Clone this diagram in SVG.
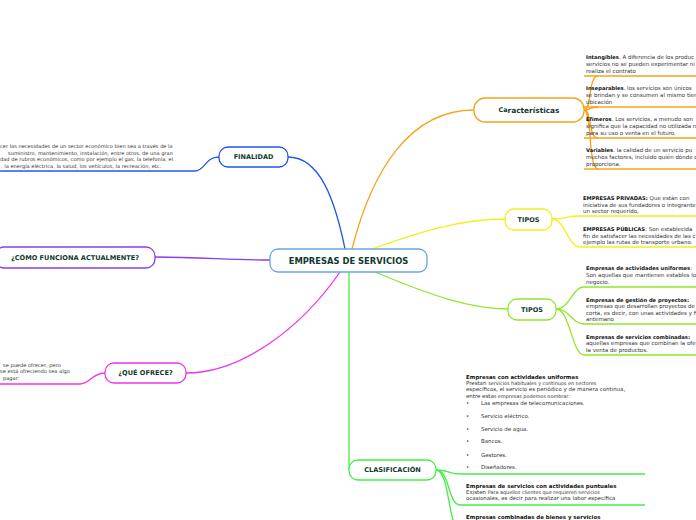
<svg xmlns="http://www.w3.org/2000/svg" width="696" height="520" viewBox="0 0 696 520">
<style>
.node rect{fill:#fff;stroke-width:1.3}
.nt{font-family:"DejaVu Sans",Verdana,sans-serif;font-weight:bold;fill:#12392f;text-anchor:middle;dominant-baseline:central}
.t{font-family:"DejaVu Sans",Verdana,sans-serif;font-size:5.1px;fill:#333}
.r{font-size:5.5px}
.b{font-weight:bold;fill:#111}
.r .b{font-size:5.2px}
.c{fill:none;stroke-width:1.3}
.u{fill:none;stroke-width:1.6}
</style>
<rect width="696" height="520" fill="#fff"/>
<g id="connectors">
<path class="c" stroke="#2255ee" d="M345,249 C335,200 320,157 288,157"/>
<path class="c" stroke="#f7a21b" d="M352,249 C372,170 410,110 474,110"/>
<path class="c" stroke="#f0f020" d="M372,249 C420,232 460,219 505,219"/>
<path class="c" stroke="#8ee82a" d="M375,272 C430,295 470,309 508,309"/>
<path class="c" stroke="#44ee44" d="M349,272 L349,470"/>
<path class="c" stroke="#ee33ee" d="M340,272 C300,330 240,373 186,373"/>
<path class="c" stroke="#8a3cee" d="M155,257 C200,257 230,260 270,260"/>
<path class="c" stroke="#f7a21b" d="M584,110 C592,110 588,76 598,76"/>
<path class="c" stroke="#f7a21b" d="M584,110 C592,110 588,107 598,107"/>
<path class="c" stroke="#f7a21b" d="M584,110 C592,110 588,138 598,138"/>
<path class="c" stroke="#f7a21b" d="M584,110 C592,110 588,169 598,169"/>
<path class="u" stroke="#f7a21b" d="M584,76 H696 M584,107 H696 M584,138 H696 M584,169 H696"/>
<path class="c" stroke="#f0f020" d="M552,219 C565,219 568,216 580,216"/>
<path class="c" stroke="#f0f020" d="M552,219 C565,219 568,247 580,247"/>
<path class="u" stroke="#f0f020" d="M580,216 H696 M580,247 H696"/>
<path class="c" stroke="#8ee82a" d="M556,309 C570,309 572,287 584,287"/>
<path class="c" stroke="#8ee82a" d="M556,309 C570,309 572,324 584,324"/>
<path class="c" stroke="#8ee82a" d="M556,309 C570,309 572,355 584,355"/>
<path class="u" stroke="#8ee82a" d="M584,287 H696 M584,324 H696 M584,355 H696"/>
<path class="c" stroke="#2255ee" d="M219,157 C205,157 205,171 195,171"/>
<path class="u" stroke="#2255ee" d="M0,171 H195"/>
<path class="c" stroke="#ee33ee" d="M105,373 C92,373 90,384 80,384"/>
<path class="u" stroke="#ee33ee" d="M0,384 H80"/>
<path class="c" stroke="#44ee44" d="M436,470 C450,470 448,474 460,474"/>
<path class="c" stroke="#44ee44" d="M436,470 C450,470 448,505 460,505"/>
<path class="c" stroke="#44ee44" d="M436,470 C450,470 448,530 460,530"/>
<path class="u" stroke="#44ee44" d="M460,474 H645 M460,505 H645"/>
</g>
<g id="central" class="node"><rect x="270" y="249" width="157" height="23" rx="8" stroke="#6aa6dd"/><text class="nt" x="348.5" y="261" font-size="8.4" fill="#1a2b4a">EMPRESAS DE SERVICIOS</text></g>
<g id="caracteristicas" class="node"><rect x="474" y="98" width="110" height="24" rx="11" stroke="#f7a21b"/><text class="nt" x="529" y="110" font-size="7.4"><tspan font-size="6.4">Ca</tspan>racterísticas</text></g>
<g id="tipos1" class="node"><rect x="505" y="209" width="47" height="21" rx="9" stroke="#f0f020"/><text class="nt" x="528.5" y="219.5" font-size="6.5">TIPOS</text></g>
<g id="tipos2" class="node"><rect x="508" y="299" width="48" height="21" rx="9" stroke="#8ee82a"/><text class="nt" x="532" y="309.5" font-size="6.5">TIPOS</text></g>
<g id="finalidad" class="node"><rect x="219" y="147" width="69" height="20" rx="9" stroke="#2255ee"/><text class="nt" x="253.5" y="157" font-size="6.5">FINALIDAD</text></g>
<g id="como" class="node"><rect x="-5" y="247" width="160" height="21" rx="9" stroke="#8a3cee"/><text class="nt" x="75" y="257.5" font-size="6.6">¿CÓMO FUNCIONA ACTUALMENTE?</text></g>
<g id="ofrece" class="node"><rect x="105" y="363" width="81" height="20" rx="9" stroke="#ee33ee"/><text class="nt" x="145.5" y="373" font-size="6.6">¿QUÉ OFRECE?</text></g>
<g id="clasificacion" class="node"><rect x="349" y="460" width="87" height="20" rx="9" stroke="#44ee44"/><text class="nt" x="392.5" y="470" font-size="6.6">CLASIFICACIÓN</text></g>
<g id="texts">
<text class="t r" x="586" y="59"><tspan class="b">Intangibles</tspan>. A diferencia de los produc</text>
<text class="t r" x="586" y="66">servicios no se pueden experimentar ni</text>
<text class="t r" x="586" y="73">realiza el contrato</text>
<text class="t r" x="586" y="90"><tspan class="b">Inseparables</tspan>.  los servicios son únicos</text>
<text class="t r" x="586" y="97">se brindan y se consumen al mismo tien</text>
<text class="t r" x="586" y="104">ubicación</text>
<text class="t r" x="586" y="121"><tspan class="b">Efímeros</tspan>. Los servicios, a menudo son</text>
<text class="t r" x="586" y="128">significa que la capacidad no utilizada n</text>
<text class="t r" x="586" y="135">para su uso o venta en el futuro.</text>
<text class="t r" x="586" y="152"><tspan class="b">Variables</tspan>.  la calidad de un servicio pu</text>
<text class="t r" x="586" y="159">muchos factores, incluido quién dónde o</text>
<text class="t r" x="586" y="166">proporciona.</text>
<text class="t r" x="583" y="200"><tspan class="b">EMPRESAS PRIVADAS:</tspan> Que están con</text>
<text class="t r" x="583" y="207">iniciativa de sus fundadores o integrante</text>
<text class="t r" x="583" y="213">un sector requerido,</text>
<text class="t r" x="583" y="231"><tspan class="b">EMPRESAS PÚBLICAS</tspan>: Son establecida</text>
<text class="t r" x="583" y="238">fin de satisfacer las necesidades de las c</text>
<text class="t r" x="583" y="244">ejemplo las rutas de transporte urbano.</text>
<text class="t r" x="586" y="270"><tspan class="b">Empresas de actividades uniformes</tspan>:</text>
<text class="t r" x="586" y="277">Son aquellas que mantienen estables lo</text>
<text class="t r" x="586" y="284">negocio.</text>
<text class="t r" x="586" y="302"><tspan class="b">Empresas de gestión de proyectos:</tspan></text>
<text class="t r" x="586" y="308">empresas que desarrollan proyectos de</text>
<text class="t r" x="586" y="315">corta, es decir, con unas actividades y fi</text>
<text class="t r" x="586" y="321">antemano</text>
<text class="t r" x="586" y="339"><tspan class="b">Empresas de servicios combinadas:</tspan></text>
<text class="t r" x="586" y="345">aquellas empresas que combinan la ofe</text>
<text class="t r" x="586" y="352">la venta de productos.</text>
<text class="t" x="0" y="148">cer las necesidades de un sector económico bien sea a través de la</text>
<text class="t" x="8" y="155">suministro, mantenimiento, instalación, entre otros, de una gran</text>
<text class="t" x="0" y="161">dad de rubros económicos, como por ejemplo el gas, la telefonía, el</text>
<text class="t" x="1" y="168">, la energía eléctrica, la salud, los vehículos, la recreación, etc.</text>
<text class="t" x="3" y="367">se puede ofrecer, pero</text>
<text class="t" x="0" y="373">se está ofreciendo sea algo</text>
<text class="t" x="3" y="380">pagar:</text>
<g>
<text class="t" style="font-size:5.45px" x="466" y="379"><tspan class="b">Empresas con actividades uniformes</tspan></text>
<text class="t" style="font-size:5.45px" x="466" y="385">Prestan <tspan font-size="4.9">servicios habituales y continuos en sectores</tspan></text>
<text class="t" style="font-size:5.45px" x="466" y="391">específicos, el servicio es periódico y de manera continua,</text>
<text class="t" style="font-size:5.45px" x="466" y="398">entre esta<tspan font-size="4.9">s empresas podemos nombrar:</tspan></text>
<text class="t" style="font-size:5.45px" x="466" y="405">•<tspan x="481">Las empresas de telecomunicaciones.</tspan></text>
<text class="t" style="font-size:5.45px" x="466" y="418">•<tspan x="481">Servicio eléctrico.</tspan></text>
<text class="t" style="font-size:5.45px" x="466" y="431">•<tspan x="481">Servicio de agua.</tspan></text>
<text class="t" style="font-size:5.45px" x="466" y="443">•<tspan x="481">Bancos.</tspan></text>
<text class="t" style="font-size:5.45px" x="466" y="457">•<tspan x="481">Gestores.</tspan></text>
<text class="t" style="font-size:5.45px" x="466" y="469">•<tspan x="481">Diseñadores.</tspan></text>
<text class="t" style="font-size:5.45px" x="466" y="488"><tspan class="b">Empresas de servicios con actividades puntuales</tspan></text>
<text class="t" style="font-size:5.45px" x="466" y="494">Existen <tspan font-size="4.9">Para aquellos clientes que requieren servicios</tspan></text>
<text class="t" style="font-size:5.45px" x="466" y="500">ocasionales, es decir para realizar una labor específica</text>
<text class="t" style="font-size:5.45px" x="466" y="519"><tspan class="b">Empresas combinadas de bienes y servicios</tspan></text>
</g>
</g>
</svg>
